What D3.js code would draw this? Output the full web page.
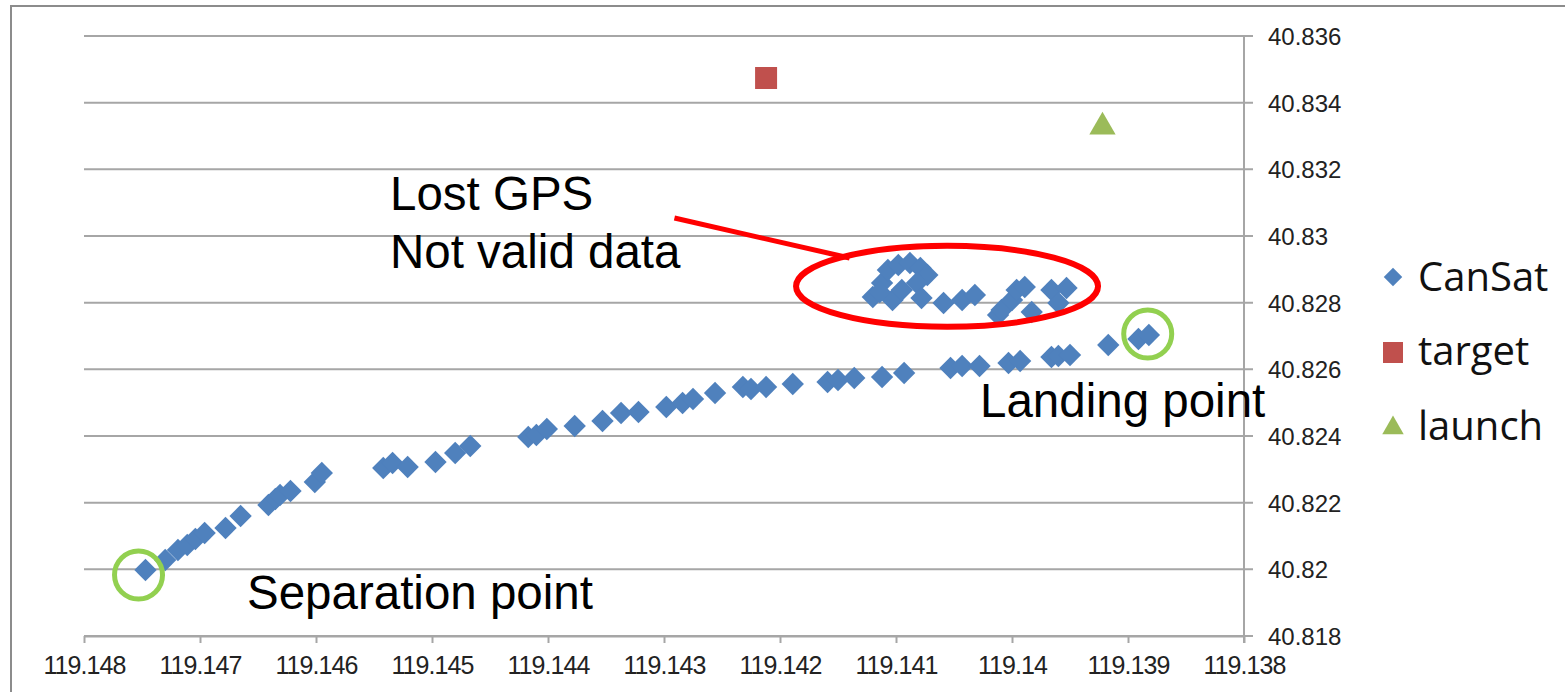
<!DOCTYPE html>
<html>
<head>
<meta charset="utf-8">
<script src="https://cdn.jsdelivr.net/npm/d3@7"></script>
<style>
  body { margin: 0; background: #fff; }
</style>
</head>
<body>
<svg id="chart" width="1565" height="692"></svg>
<script>
// CanSat track (longitude, latitude)
var cansat_lon = [
    119.14747, 119.14730, 119.14719, 119.14711, 119.14704, 119.14696, 119.14678, 119.14665,
    119.14641, 119.14635, 119.14631, 119.14622, 119.14601, 119.14595, 119.14542, 119.14534,
    119.14521, 119.14497, 119.14480, 119.14467, 119.14417, 119.14410, 119.14401, 119.14377,
    119.14353, 119.14337, 119.14322, 119.14298, 119.14284, 119.14275, 119.14256, 119.14232,
    119.14225, 119.14212, 119.14189, 119.14159, 119.14150, 119.14136, 119.14112, 119.14093,
    119.14053, 119.14043, 119.14028, 119.14003, 119.13993, 119.13966, 119.13960, 119.13950,
    119.13917, 119.13891, 119.13882,
    // lost GPS cluster
    119.14120, 119.14112, 119.14107, 119.14098, 119.14088, 119.14079, 119.14073, 119.14103,
    119.14095, 119.14082, 119.14114, 119.14078, 119.14059, 119.14043, 119.14032, 119.14012,
    119.14009, 119.14000, 119.13996, 119.13989, 119.13983, 119.13966, 119.13960, 119.13953
];
var cansat_lat = [
    40.81998, 40.82028, 40.82058, 40.82073, 40.82091, 40.82109, 40.82124, 40.82160,
    40.82193, 40.82211, 40.82223, 40.82235, 40.82262, 40.82289, 40.82304, 40.82319,
    40.82307, 40.82322, 40.82349, 40.82370, 40.82397, 40.82403, 40.82421, 40.82430,
    40.82445, 40.82469, 40.82472, 40.82487, 40.82499, 40.82511, 40.82529, 40.82547,
    40.82541, 40.82547, 40.82556, 40.82562, 40.82568, 40.82574, 40.82577, 40.82589,
    40.82604, 40.82610, 40.82610, 40.82619, 40.82625, 40.82637, 40.82640, 40.82643,
    40.82673, 40.82691, 40.82703,
    40.82817, 40.82859, 40.82898, 40.82913, 40.82919, 40.82904, 40.82883, 40.82808,
    40.82838, 40.82859, 40.82832, 40.82814, 40.82799, 40.82808, 40.82823, 40.82763,
    40.82778, 40.82808, 40.82838, 40.82847, 40.82772, 40.82838, 40.82799, 40.82844
];
var target_pt = [119.14212, 40.83474];
var launch_pt = [119.13922, 40.83327];

var x_ticks = [119.148, 119.147, 119.146, 119.145, 119.144, 119.143, 119.142, 119.141, 119.14, 119.139, 119.138];
var y_ticks = [40.818, 40.82, 40.822, 40.824, 40.826, 40.828, 40.83, 40.832, 40.834, 40.836];
var series_names = ["CanSat", "target", "launch"];
var series_colors = ["#4F81BD", "#C0504D", "#9BBB59"];

var margin = {left: 84, right: 321, top: 36, bottom: 56};
var width = 1565, height = 692;

var svg = d3.select("#chart");

// outer frame
svg.append("rect")
    .attr("x", 11)
    .attr("y", 6)
    .attr("width", 1600)
    .attr("height", 800)
    .attr("fill", "none")
    .attr("stroke", "#8c8c8c")
    .attr("stroke-width", 2)

var x = d3.scaleLinear()
    .domain([119.148, 119.138])
    .range([margin.left, width - margin.right]);
var y = d3.scaleLinear()
    .domain([40.818, 40.836])
    .range([height - margin.bottom, margin.top]);

var fmt = function(d) { return String(+d.toFixed(3)); };

// gridlines (extend past the right axis as ticks)
svg.append("g")
    .selectAll("line")
    .data(y_ticks)
    .join("line")
    .attr("x1", x(119.148))
    .attr("x2", x(119.138) + 9)
    .attr("y1", function(d) { return y(d); })
    .attr("y2", function(d) { return y(d); })
    .attr("stroke", "#a6a6a6")
    .attr("stroke-width", 2)

// x axis
var xAxis = svg.append("g")
    .attr("transform", "translate(0," + y(40.818) + ")")
    .call(d3.axisBottom(x).tickValues(x_ticks).tickFormat(fmt).tickSize(7).tickSizeOuter(0))
xAxis.select(".domain").attr("stroke", "#a6a6a6").attr("stroke-width", 2)
xAxis.selectAll(".tick line").attr("stroke", "#a6a6a6").attr("stroke-width", 2)
xAxis.selectAll(".tick text")
    .attr("y", 20)
    .attr("dy", "0.71em")
    .attr("font-family", "'Liberation Sans', Arial, sans-serif")
    .attr("font-size", "25px")
    .attr("letter-spacing", "-0.9px")
    .attr("fill", "#222")

// y axis on the right
var yAxis = svg.append("g")
    .attr("transform", "translate(" + x(119.138) + ",0)")
    .call(d3.axisRight(y).tickValues(y_ticks).tickFormat(fmt).tickSize(0).tickSizeOuter(0))
yAxis.select(".domain").remove()
yAxis.append("line")
    .attr("x1", 0).attr("x2", 0)
    .attr("y1", y(40.836)).attr("y2", y(40.818) + 7)
    .attr("stroke", "#a6a6a6")
    .attr("stroke-width", 2)
yAxis.selectAll(".tick text")
    .attr("x", 24)
    .attr("dy", "0.35em")
    .attr("text-anchor", "start")
    .attr("font-family", "'Liberation Sans', Arial, sans-serif")
    .attr("font-size", "24px")
    .attr("fill", "#222")

// CanSat points
var diamond = d3.symbol().type(d3.symbolSquare).size(250);
svg.append("g")
    .selectAll("path")
    .data(d3.range(cansat_lon.length))
    .join("path")
    .attr("d", diamond)
    .attr("transform", function(i) {
        return "translate(" + x(cansat_lon[i]) + "," + y(cansat_lat[i]) + ") rotate(45)";
    })
    .attr("fill", series_colors[0])

// target
svg.append("path")
    .attr("d", d3.symbol().type(d3.symbolSquare).size(484))
    .attr("transform", "translate(" + x(target_pt[0]) + "," + y(target_pt[1]) + ")")
    .attr("fill", series_colors[1])

// launch
svg.append("path")
    .attr("d", d3.symbol().type(d3.symbolTriangle).size(300))
    .attr("transform", "translate(" + x(launch_pt[0]) + "," + y(launch_pt[1]) + ")")
    .attr("fill", series_colors[2])

// legend
var legend_y = [277, 352, 427];
var legend_base = [291, 365, 440];
var legend = svg.append("g");
legend.append("path")
    .attr("d", d3.symbol().type(d3.symbolSquare).size(170))
    .attr("transform", "translate(1393," + legend_y[0] + ") rotate(45)")
    .attr("fill", series_colors[0])
legend.append("rect")
    .attr("x", 1383).attr("y", legend_y[1] - 10)
    .attr("width", 20).attr("height", 21)
    .attr("fill", series_colors[1])
legend.append("path")
    .attr("d", d3.symbol().type(d3.symbolTriangle).size(200))
    .attr("transform", "translate(1393," + (legend_y[2] + 1) + ")")
    .attr("fill", series_colors[2])
legend.selectAll("text")
    .data(series_names)
    .join("text")
    .attr("x", 1418)
    .attr("y", function(d, i) { return legend_base[i]; })
    .text(function(d) { return d; })
    .attr("font-family", "'Open Sans', sans-serif")
    .attr("font-size", "40px")
    .attr("fill", "#111")

// annotations
var ann = svg.append("g");
ann.append("ellipse")
    .attr("cx", x(119.14056))
    .attr("cy", y(40.82849))
    .attr("rx", 151)
    .attr("ry", 40.5)
    .attr("fill", "none")
    .attr("stroke", "#ff0000")
    .attr("stroke-width", 6)
ann.append("line")
    .attr("x1", x(119.14291)).attr("y1", y(40.83054))
    .attr("x2", x(119.14140)).attr("y2", y(40.82934))
    .attr("stroke", "#ff0000")
    .attr("stroke-width", 5)

var rings = [[119.14753, 40.81983], [119.13883, 40.82706]];
ann.selectAll("circle")
    .data(rings)
    .join("circle")
    .attr("cx", function(d) { return x(d[0]); })
    .attr("cy", function(d) { return y(d[1]); })
    .attr("r", 24)
    .attr("fill", "none")
    .attr("stroke", "#92D050")
    .attr("stroke-width", 5)

var notes = [
    {t: "Lost GPS", x: 390, y: 210},
    {t: "Not valid data", x: 390, y: 268},
    {t: "Separation point", x: 247, y: 609},
    {t: "Landing point", x: 980, y: 417}
];
ann.selectAll("text")
    .data(notes)
    .join("text")
    .attr("x", function(d) { return d.x; })
    .attr("y", function(d) { return d.y; })
    .text(function(d) { return d.t; })
    .attr("font-family", "'Liberation Sans', Arial, sans-serif")
    .attr("font-size", "47.5px")
    .attr("fill", "#000")
</script>
</body>
</html>
